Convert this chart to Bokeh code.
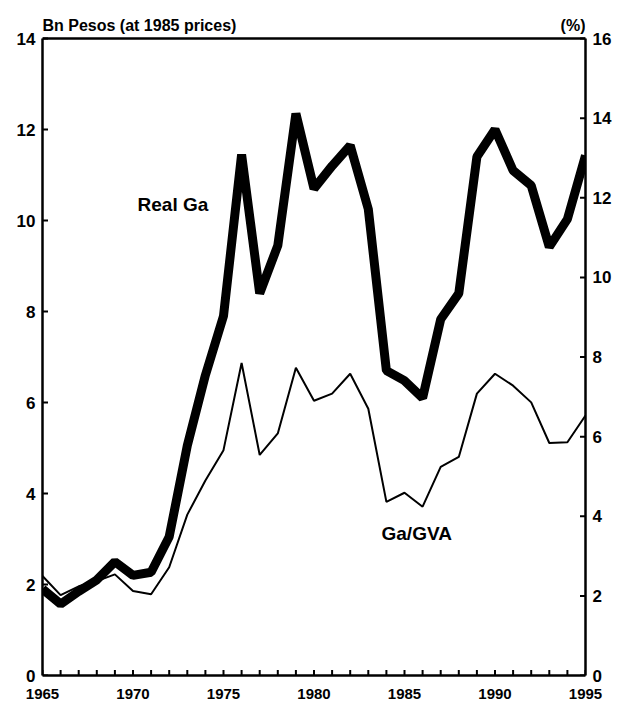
import math
from bokeh.plotting import figure
from bokeh.models import Range1d, LinearAxis, FixedTicker, Label, Span
from bokeh.embed import file_html
from bokeh.resources import INLINE

years = list(range(1965, 1996))
real_ga = [1.90, 1.57, 1.85, 2.10, 2.50, 2.20, 2.27, 3.05, 5.05, 6.60, 7.90,
           11.45, 8.40, 9.45, 12.35, 10.70, 11.20, 11.65, 10.25, 6.70, 6.48,
           6.10, 7.83, 8.40, 11.40, 12.00, 11.10, 10.77, 9.42, 10.03, 11.43]
ga_gva = [2.50, 2.02, 2.24, 2.37, 2.54, 2.12, 2.04, 2.72, 4.04, 4.90, 5.66,
          7.85, 5.54, 6.08, 7.73, 6.90, 7.08, 7.58, 6.70, 4.36, 4.59,
          4.24, 5.24, 5.49, 7.08, 7.58, 7.28, 6.86, 5.84, 5.86, 6.53]
left_ticks = [0, 2, 4, 6, 8, 10, 12, 14]
right_ticks = [0, 2, 4, 6, 8, 10, 12, 14, 16]
x_major = [1965, 1970, 1975, 1980, 1985, 1990, 1995]

FONT = "Liberation Sans"

LEFT_MAX = 14
RIGHT_MAX = 16
BOX_H = 637          # pixel height of the boxed plot area
FRAME_H = 673        # frame extends above the box to host the header texts
top_left = LEFT_MAX * FRAME_H / BOX_H
top_right = RIGHT_MAX * FRAME_H / BOX_H

p = figure(frame_width=543, frame_height=FRAME_H, output_backend="svg",
           toolbar_location=None, x_range=Range1d(1965, 1995),
           y_range=Range1d(0, top_left), min_border_left=42, min_border_right=24,
           min_border_top=2, min_border_bottom=31)
p.extra_y_ranges = {"pct": Range1d(0, top_right)}
p.grid.visible = False
p.outline_line_color = None
p.background_fill_color = "white"
p.border_fill_color = "white"

p.line(years, ga_gva, y_range_name="pct", line_color="black", line_width=2)
p.line(years, real_ga, line_color="black", line_width=9)

def style(ax, size, standoff):
    ax.axis_line_width = 2.5
    ax.axis_line_color = "black"
    ax.major_tick_in = 0
    ax.major_tick_out = 0
    ax.minor_tick_in = 0
    ax.minor_tick_out = 0
    ax.major_label_text_font = FONT
    ax.major_label_text_font_style = "bold"
    ax.major_label_text_font_size = size
    ax.major_label_text_color = "black"
    ax.major_label_standoff = standoff

xa = p.xaxis[0]
xa.ticker = FixedTicker(ticks=x_major, minor_ticks=[])
style(xa, "15px", 13)
ya = p.yaxis[0]
ya.ticker = FixedTicker(ticks=left_ticks, minor_ticks=[])
ya.bounds = (0, LEFT_MAX)
style(ya, "17px", 7)

ra = LinearAxis(y_range_name="pct", ticker=FixedTicker(ticks=right_ticks, minor_ticks=[]),
                bounds=(0, RIGHT_MAX))
style(ra, "17px", 7)
p.add_layout(ra, "right")

# top border of the box
p.add_layout(Span(location=LEFT_MAX, dimension="width", line_color="black", line_width=2.5))

# inward tick marks (half of each dash is clipped by the frame)
p.scatter([1965] * len(left_ticks), left_ticks, marker="dash", size=11,
          line_color="black", line_width=2)
p.scatter([1995] * len(right_ticks), right_ticks, marker="dash", size=11,
          line_color="black", line_width=2, y_range_name="pct")
p.scatter(years, [0] * len(years), marker="dash", size=11, angle=math.pi / 2,
          line_color="black", line_width=2)

def label(x, y, text, size, align="left", baseline="middle", yoff=0):
    p.add_layout(Label(x=x, y=y, y_offset=yoff, text=text, text_font=FONT,
                       text_font_style="bold", text_font_size=size,
                       text_color="black", text_align=align,
                       text_baseline=baseline))

label(1965, LEFT_MAX, "Bn Pesos (at 1985 prices)", "16px", baseline="alphabetic", yoff=13)
label(1995, LEFT_MAX, "(%)", "16px", align="right", baseline="alphabetic", yoff=13)
label(1970.25, 10.35, "Real Ga", "19px")
label(1983.73, 3.12, "Ga/GVA", "19px")

open("out.html", "w").write(file_html(p, INLINE))
